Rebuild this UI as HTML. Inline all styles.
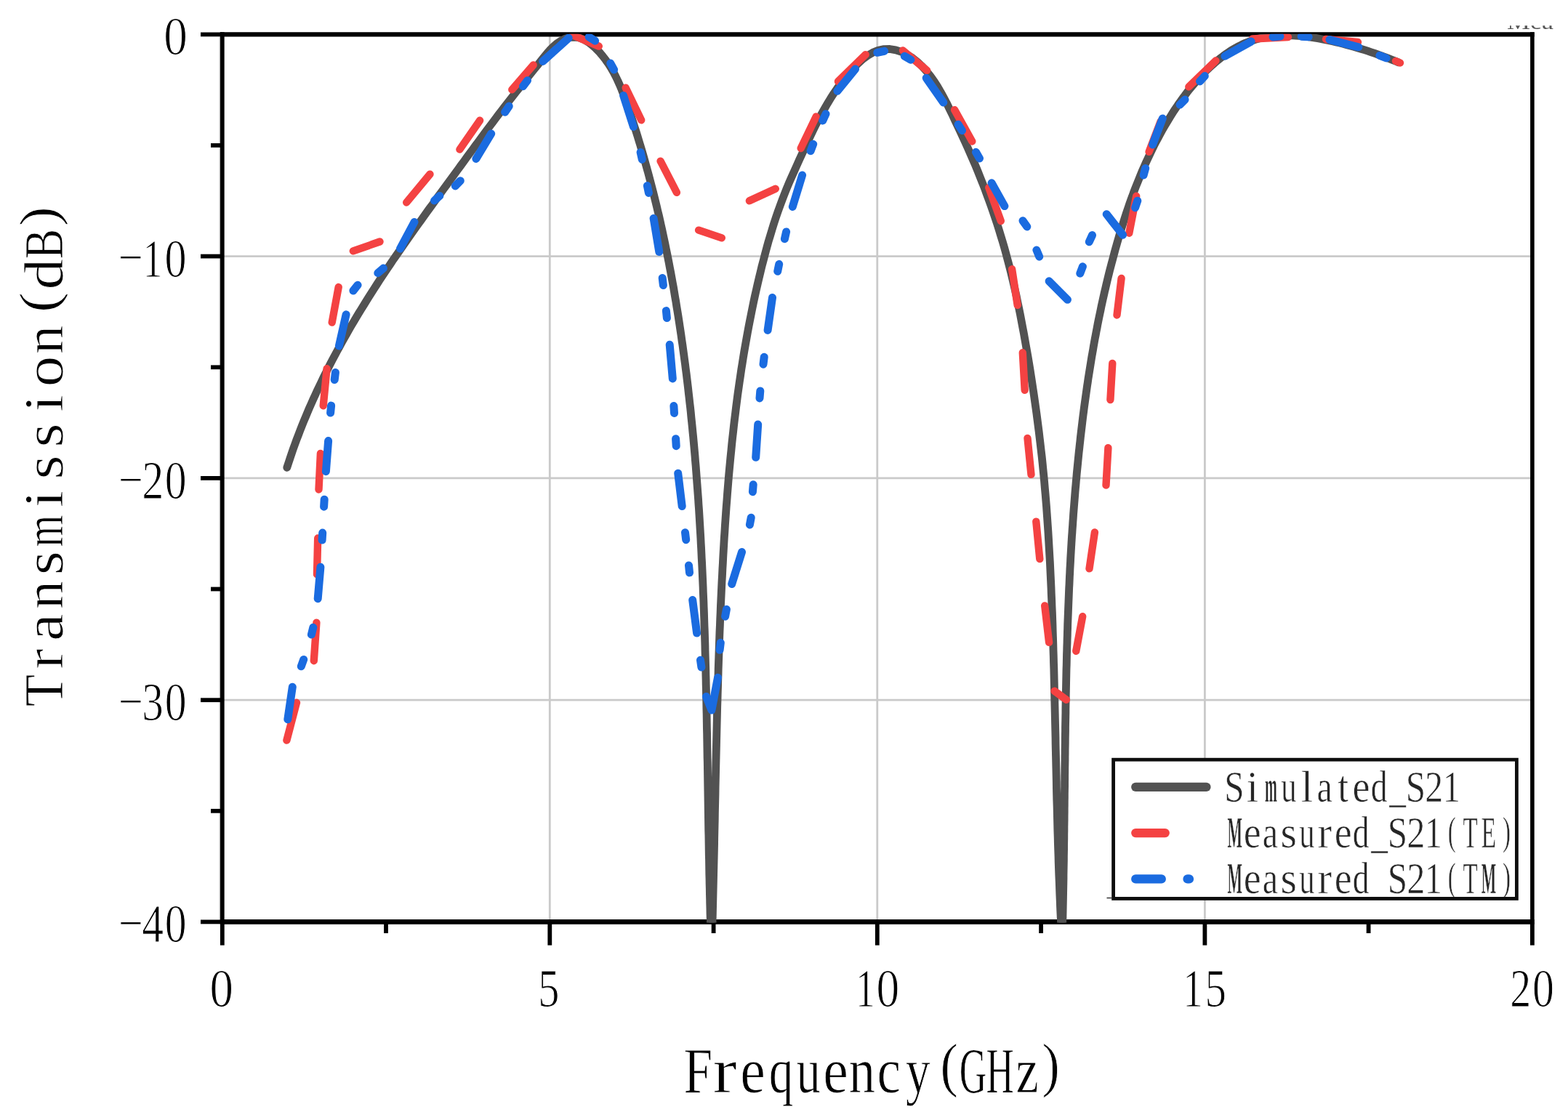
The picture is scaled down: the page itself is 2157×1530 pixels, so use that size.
<!DOCTYPE html>
<html><head><meta charset="utf-8"><title>Transmission vs Frequency</title>
<style>
html,body{margin:0;padding:0;background:#fff;}
svg{display:block;}
text{font-family:'Liberation Serif','Times New Roman',serif;}
</style></head>
<body>
<svg xmlns="http://www.w3.org/2000/svg" width="2157" height="1530" viewBox="0 0 2157 1530">
<defs>
<clipPath id="plotclip"><rect x="305.8" y="46.8" width="1802.2" height="1222.6"/></clipPath>
<clipPath id="topclip"><rect x="2060" y="35.3" width="97" height="5.2"/></clipPath>
</defs>
<rect width="2157" height="1530" fill="#fff"/>
<line x1="756.3" y1="47.4" x2="756.3" y2="1268.4" stroke="#cacaca" stroke-width="2.8"/>
<line x1="1206.8" y1="47.4" x2="1206.8" y2="1268.4" stroke="#cacaca" stroke-width="2.8"/>
<line x1="1657.4" y1="47.4" x2="1657.4" y2="1268.4" stroke="#cacaca" stroke-width="2.8"/>
<line x1="305.8" y1="352.6" x2="2107.9" y2="352.6" stroke="#cacaca" stroke-width="2.8"/>
<line x1="305.8" y1="657.9" x2="2107.9" y2="657.9" stroke="#cacaca" stroke-width="2.8"/>
<line x1="305.8" y1="963.2" x2="2107.9" y2="963.2" stroke="#cacaca" stroke-width="2.8"/>
<line x1="302.2" y1="50.4" x2="302.2" y2="1265.4" stroke="#d6d6d6" stroke-width="1.6"/>
<g stroke="#000" fill="none" stroke-linecap="butt">
<line x1="305.75" y1="44.15" x2="305.75" y2="1268.45" stroke-width="5.8"/>
<line x1="2107.90" y1="44.15" x2="2107.90" y2="1268.45" stroke-width="5.6"/>
<line x1="302.85" y1="47.35" x2="2110.70" y2="47.35" stroke-width="6.4"/>
<line x1="302.85" y1="1268.45" x2="2110.70" y2="1268.45" stroke-width="6.8"/>
</g>
<g stroke="#000" stroke-width="5.8" fill="none">
<line x1="305.8" y1="1268.4" x2="305.8" y2="1300.6"/>
<line x1="756.3" y1="1268.4" x2="756.3" y2="1300.6"/>
<line x1="1206.8" y1="1268.4" x2="1206.8" y2="1300.6"/>
<line x1="1657.4" y1="1268.4" x2="1657.4" y2="1300.6"/>
<line x1="2107.9" y1="1268.4" x2="2107.9" y2="1300.6"/>
<line x1="531.0" y1="1268.4" x2="531.0" y2="1284"/>
<line x1="981.6" y1="1268.4" x2="981.6" y2="1284"/>
<line x1="1432.1" y1="1268.4" x2="1432.1" y2="1284"/>
<line x1="1882.6" y1="1268.4" x2="1882.6" y2="1284"/>
<line x1="276" y1="47.4" x2="305.8" y2="47.4"/>
<line x1="276" y1="352.6" x2="305.8" y2="352.6"/>
<line x1="276" y1="657.9" x2="305.8" y2="657.9"/>
<line x1="276" y1="963.2" x2="305.8" y2="963.2"/>
<line x1="276" y1="1268.4" x2="305.8" y2="1268.4"/>
<line x1="290" y1="200.0" x2="305.8" y2="200.0"/>
<line x1="290" y1="505.3" x2="305.8" y2="505.3"/>
<line x1="290" y1="810.5" x2="305.8" y2="810.5"/>
<line x1="290" y1="1115.8" x2="305.8" y2="1115.8"/>
</g>
<g clip-path="url(#plotclip)" fill="none" stroke-linecap="round" stroke-linejoin="round">
<path d="M394.8,643.3 L396.9,636.9 L399.0,630.5 L401.1,624.2 L403.3,617.8 L405.6,611.5 L407.9,605.2 L410.3,599.0 L412.7,592.7 L415.1,586.5 L417.6,580.3 L420.2,574.1 L422.8,567.9 L425.4,561.7 L428.1,555.6 L430.8,549.5 L433.6,543.4 L436.4,537.3 L439.3,531.3 L442.2,525.2 L445.1,519.2 L448.1,513.2 L451.1,507.2 L454.1,501.3 L457.2,495.3 L460.3,489.4 L463.5,483.5 L466.7,477.6 L469.9,471.7 L473.2,465.9 L476.5,460.1 L479.8,454.2 L483.1,448.4 L486.5,442.7 L489.9,436.9 L493.4,431.2 L496.9,425.5 L500.4,419.8 L503.9,414.1 L507.5,408.4 L511.0,402.8 L514.7,397.1 L518.3,391.5 L521.9,385.9 L525.6,380.3 L529.3,374.7 L533.0,369.2 L536.8,363.6 L540.5,358.1 L544.3,352.6 L548.1,347.1 L551.9,341.6 L555.7,336.1 L559.6,330.6 L563.4,325.1 L567.3,319.6 L571.2,314.2 L575.1,308.7 L579.0,303.3 L582.9,297.9 L586.8,292.4 L590.7,287.0 L594.7,281.6 L598.6,276.2 L602.5,270.7 L606.5,265.3 L610.4,259.9 L614.4,254.5 L618.3,249.1 L622.3,243.7 L626.2,238.3 L630.2,232.9 L634.1,227.5 L638.1,222.1 L642.0,216.7 L646.0,211.3 L650.0,205.9 L653.9,200.5 L657.9,195.1 L661.9,189.7 L665.9,184.3 L669.8,179.0 L673.8,173.6 L677.9,168.3 L681.9,162.9 L685.9,157.6 L690.0,152.3 L694.0,147.0 L698.1,141.7 L702.2,136.5 L706.3,131.2 L710.4,126.0 L714.5,120.8 L718.7,115.6 L722.8,110.3 L727.0,105.1 L731.2,99.9 L735.4,94.7 L739.6,89.5 L743.8,84.2 L748.0,78.9 L752.3,73.6 L756.7,68.6 L761.5,63.8 L766.6,59.5 L772.2,55.9 L778.3,53.0 L784.9,51.3 L791.3,51.0 L797.6,52.2 L803.6,54.6 L809.3,58.0 L814.7,62.2 L819.8,66.9 L824.6,71.8 L829.0,77.0 L833.1,82.3 L836.9,87.7 L840.5,93.3 L843.8,99.1 L846.9,105.0 L849.8,111.0 L852.5,117.0 L855.1,123.2 L857.5,129.4 L859.9,135.7 L862.1,142.0 L864.3,148.4 L866.5,154.7 L868.6,161.1 L870.7,167.5 L872.7,173.8 L874.8,180.2 L876.8,186.6 L878.7,193.0 L880.7,199.5 L882.6,205.9 L884.5,212.3 L886.3,218.8 L888.1,225.2 L889.9,231.7 L891.7,238.1 L893.4,244.6 L895.1,251.1 L896.8,257.6 L898.5,264.1 L900.1,270.6 L901.7,277.1 L903.3,283.6 L904.8,290.1 L906.4,296.6 L907.9,303.2 L909.3,309.7 L910.8,316.3 L912.2,322.8 L913.6,329.4 L915.0,335.9 L916.3,342.5 L917.7,349.1 L919.0,355.6 L920.3,362.2 L921.5,368.8 L922.8,375.4 L924.0,382.0 L925.2,388.6 L926.4,395.1 L927.5,401.7 L928.6,408.3 L929.8,415.0 L930.8,421.6 L931.9,428.2 L933.0,434.8 L934.0,441.4 L935.0,448.0 L936.0,454.6 L937.0,461.3 L937.9,467.9 L938.9,474.5 L939.8,481.2 L940.7,487.8 L941.6,494.4 L942.5,501.1 L943.3,507.7 L944.2,514.3 L945.0,521.0 L945.8,527.6 L946.6,534.3 L947.3,540.9 L948.1,547.6 L948.8,554.2 L949.6,560.9 L950.3,567.5 L950.9,574.2 L951.6,580.8 L952.3,587.5 L952.9,594.1 L953.6,600.8 L954.2,607.5 L954.8,614.1 L955.4,620.8 L956.0,627.5 L956.5,634.1 L957.1,640.8 L957.6,647.5 L958.1,654.1 L958.6,660.8 L959.1,667.5 L959.6,674.2 L960.1,680.8 L960.6,687.5 L961.0,694.2 L961.5,700.9 L961.9,707.6 L962.3,714.2 L962.7,720.9 L963.1,727.6 L963.5,734.3 L963.9,741.0 L964.2,747.7 L964.6,754.3 L964.9,761.0 L965.2,767.7 L965.6,774.4 L965.9,781.1 L966.2,787.8 L966.5,794.5 L966.8,801.2 L967.1,807.9 L967.3,814.6 L967.6,821.3 L967.9,828.0 L968.1,834.7 L968.4,841.4 L968.6,848.1 L968.8,854.8 L969.0,861.5 L969.3,868.2 L969.5,874.9 L969.7,881.6 L969.9,888.3 L970.0,895.0 L970.2,901.7 L970.4,908.4 L970.6,915.1 L970.8,921.8 L970.9,928.5 L971.1,935.2 L971.2,941.9 L971.4,948.6 L971.5,955.3 L971.7,962.0 L971.8,968.7 L971.9,975.4 L972.1,982.1 L972.2,988.8 L972.3,995.5 L972.4,1002.2 L972.6,1008.9 L972.7,1015.6 L972.8,1022.3 L972.9,1029.0 L973.0,1035.7 L973.1,1042.4 L973.3,1049.1 L973.4,1055.8 L973.5,1062.5 L973.6,1069.2 L973.7,1075.9 L973.8,1082.6 L973.9,1089.3 L974.0,1096.0 L974.1,1102.7 L974.2,1109.4 L974.3,1116.1 L974.4,1122.8 L974.5,1129.5 L974.6,1136.2 L974.7,1142.9 L974.9,1149.6 L975.0,1156.2 L975.1,1162.9 L975.2,1169.6 L975.3,1176.3 L975.5,1183.0 L975.6,1189.7 L975.7,1196.4 L975.8,1203.1 L976.0,1209.8 L976.1,1216.4 L976.3,1223.1 L976.4,1229.8 L976.6,1236.5 L976.7,1243.2 L976.9,1249.8 L977.0,1256.5 L977.2,1263.2 L977.4,1269.9 L977.6,1276.6 L977.7,1283.2 L977.9,1289.9" stroke="#525252" stroke-width="10.8"/>
<path d="M979.5,1290.0 L979.7,1281.4 L980.0,1272.8 L980.2,1264.2 L980.4,1255.6 L980.6,1247.0 L980.8,1238.4 L981.0,1229.8 L981.2,1221.2 L981.4,1212.6 L981.6,1204.0 L981.8,1195.4 L982.0,1186.8 L982.2,1178.2 L982.4,1169.6 L982.6,1161.0 L982.7,1152.4 L982.9,1143.8 L983.1,1135.2 L983.3,1126.6 L983.4,1118.0 L983.6,1109.4 L983.8,1100.8 L984.0,1092.2 L984.1,1083.6 L984.3,1075.0 L984.5,1066.4 L984.7,1057.8 L984.9,1049.2 L985.1,1040.7 L985.3,1032.1 L985.5,1023.5 L985.7,1014.9 L985.9,1006.3 L986.1,997.7 L986.3,989.1 L986.5,980.5 L986.7,971.9 L987.0,963.3 L987.2,954.7 L987.5,946.1 L987.7,937.5 L988.0,928.9 L988.2,920.3 L988.5,911.7 L988.8,903.1 L989.1,894.6 L989.4,886.0 L989.7,877.4 L990.0,868.8 L990.4,860.2 L990.7,851.6 L991.1,843.0 L991.4,834.4 L991.8,825.8 L992.2,817.2 L992.6,808.6 L993.0,800.0 L993.5,791.4 L993.9,782.8 L994.4,774.2 L994.8,765.7 L995.3,757.1 L995.8,748.5 L996.3,739.9 L996.9,731.3 L997.4,722.7 L998.0,714.1 L998.6,705.5 L999.2,696.9 L999.9,688.4 L1000.5,679.8 L1001.2,671.2 L1001.9,662.6 L1002.6,654.1 L1003.4,645.5 L1004.2,636.9 L1005.0,628.4 L1005.9,619.8 L1006.7,611.2 L1007.6,602.7 L1008.6,594.1 L1009.5,585.6 L1010.5,577.1 L1011.6,568.5 L1012.6,560.0 L1013.7,551.5 L1014.8,542.9 L1016.0,534.4 L1017.2,525.9 L1018.5,517.4 L1019.7,508.9 L1021.1,500.4 L1022.4,492.0 L1023.8,483.5 L1025.3,475.0 L1026.8,466.5 L1028.3,458.1 L1029.9,449.6 L1031.5,441.2 L1033.2,432.8 L1034.9,424.3 L1036.6,415.9 L1038.4,407.5 L1040.3,399.1 L1042.2,390.7 L1044.2,382.3 L1046.2,374.0 L1048.2,365.6 L1050.4,357.3 L1052.6,348.9 L1054.8,340.6 L1057.1,332.3 L1059.6,324.1 L1062.1,315.8 L1064.6,307.6 L1067.3,299.4 L1070.1,291.3 L1073.0,283.2 L1076.0,275.1 L1079.1,267.1 L1082.3,259.1 L1085.6,251.2 L1089.1,243.3 L1092.6,235.5 L1096.1,227.6 L1099.6,219.8 L1103.2,212.0 L1106.8,204.2 L1110.4,196.4 L1114.1,188.6 L1117.8,180.9 L1121.6,173.2 L1125.5,165.6 L1129.5,158.0 L1133.7,150.5 L1137.9,143.1 L1142.4,135.7 L1147.0,128.5 L1151.8,121.4 L1156.9,114.3 L1162.2,107.5 L1167.8,100.7 L1173.7,94.1 L1179.9,87.8 L1186.4,81.8 L1193.3,76.6 L1200.6,72.3 L1208.1,69.2 L1216.0,67.6 L1224.1,67.5 L1232.2,68.8 L1240.2,71.4 L1248.0,75.2 L1255.4,79.9 L1262.3,85.4 L1268.7,91.5 L1274.6,98.0 L1280.1,104.9 L1285.1,111.9 L1289.8,119.2 L1294.1,126.6 L1298.2,134.1 L1302.2,141.7 L1305.9,149.4 L1309.7,157.1 L1313.3,164.9 L1317.0,172.6 L1320.7,180.4 L1324.3,188.2 L1327.9,196.0 L1331.4,203.8 L1334.9,211.7 L1338.3,219.5 L1341.7,227.4 L1345.0,235.4 L1348.2,243.4 L1351.4,251.4 L1354.5,259.4 L1357.5,267.5 L1360.5,275.6 L1363.4,283.7 L1366.2,291.8 L1369.0,300.0 L1371.7,308.1 L1374.3,316.3 L1376.8,324.6 L1379.3,332.8 L1381.7,341.1 L1384.0,349.4 L1386.2,357.7 L1388.4,366.0 L1390.5,374.3 L1392.5,382.6 L1394.5,391.0 L1396.4,399.4 L1398.3,407.8 L1400.0,416.2 L1401.8,424.6 L1403.5,433.0 L1405.1,441.4 L1406.7,449.9 L1408.3,458.3 L1409.8,466.8 L1411.3,475.2 L1412.8,483.7 L1414.3,492.2 L1415.7,500.7 L1417.1,509.2 L1418.4,517.6 L1419.7,526.1 L1421.0,534.7 L1422.3,543.2 L1423.5,551.7 L1424.7,560.2 L1425.9,568.7 L1427.0,577.3 L1428.1,585.8 L1429.2,594.3 L1430.2,602.9 L1431.2,611.4 L1432.2,620.0 L1433.2,628.5 L1434.1,637.1 L1434.9,645.6 L1435.8,654.2 L1436.6,662.8 L1437.3,671.3 L1438.1,679.9 L1438.8,688.5 L1439.5,697.0 L1440.1,705.6 L1440.7,714.2 L1441.3,722.8 L1441.9,731.3 L1442.4,739.9 L1442.9,748.5 L1443.4,757.1 L1443.9,765.7 L1444.4,774.2 L1444.8,782.8 L1445.2,791.4 L1445.6,800.0 L1446.0,808.6 L1446.3,817.2 L1446.7,825.8 L1447.0,834.4 L1447.4,843.0 L1447.7,851.5 L1448.0,860.1 L1448.2,868.7 L1448.5,877.3 L1448.8,885.9 L1449.0,894.5 L1449.3,903.1 L1449.5,911.7 L1449.8,920.3 L1450.0,928.9 L1450.2,937.5 L1450.4,946.1 L1450.6,954.7 L1450.8,963.3 L1451.0,971.9 L1451.2,980.5 L1451.4,989.1 L1451.6,997.7 L1451.8,1006.3 L1452.0,1014.9 L1452.1,1023.5 L1452.3,1032.1 L1452.5,1040.7 L1452.7,1049.3 L1452.9,1057.9 L1453.1,1066.5 L1453.3,1075.1 L1453.4,1083.7 L1453.6,1092.3 L1453.8,1100.9 L1454.1,1109.5 L1454.3,1118.1 L1454.5,1126.7 L1454.7,1135.3 L1454.9,1143.9 L1455.2,1152.5 L1455.4,1161.1 L1455.7,1169.7 L1456.0,1178.3 L1456.2,1186.9 L1456.5,1195.5 L1456.8,1204.1 L1457.2,1212.7 L1457.5,1221.3 L1457.8,1229.8 L1458.2,1238.4 L1458.5,1247.0 L1458.9,1255.6 L1459.3,1264.2 L1459.7,1272.8 L1460.2,1281.4 L1460.6,1290.0" stroke="#525252" stroke-width="10.8"/>
<path d="M1461.2,1290.0 L1461.3,1284.9 L1461.5,1279.9 L1461.6,1274.8 L1461.7,1269.7 L1461.9,1264.7 L1462.0,1259.6 L1462.1,1254.5 L1462.2,1249.5 L1462.3,1244.4 L1462.4,1239.3 L1462.5,1234.3 L1462.6,1229.2 L1462.7,1224.1 L1462.8,1219.1 L1462.9,1214.0 L1463.0,1208.9 L1463.0,1203.9 L1463.1,1198.8 L1463.2,1193.7 L1463.3,1188.7 L1463.4,1183.6 L1463.4,1178.5 L1463.5,1173.5 L1463.6,1168.4 L1463.6,1163.3 L1463.7,1158.3 L1463.8,1153.2 L1463.8,1148.1 L1463.9,1143.1 L1463.9,1138.0 L1464.0,1132.9 L1464.1,1127.8 L1464.1,1122.8 L1464.2,1117.7 L1464.2,1112.6 L1464.3,1107.6 L1464.3,1102.5 L1464.4,1097.4 L1464.4,1092.4 L1464.5,1087.3 L1464.6,1082.2 L1464.6,1077.2 L1464.7,1072.1 L1464.7,1067.0 L1464.8,1061.9 L1464.8,1056.9 L1464.9,1051.8 L1465.0,1046.7 L1465.0,1041.7 L1465.1,1036.6 L1465.1,1031.5 L1465.2,1026.5 L1465.3,1021.4 L1465.3,1016.3 L1465.4,1011.2 L1465.5,1006.2 L1465.5,1001.1 L1465.6,996.0 L1465.7,991.0 L1465.8,985.9 L1465.9,980.8 L1465.9,975.8 L1466.0,970.7 L1466.1,965.6 L1466.2,960.6 L1466.3,955.5 L1466.4,950.4 L1466.5,945.4 L1466.6,940.3 L1466.7,935.2 L1466.8,930.2 L1466.9,925.1 L1467.0,920.0 L1467.2,915.0 L1467.3,909.9 L1467.4,904.8 L1467.5,899.8 L1467.7,894.7 L1467.8,889.6 L1468.0,884.6 L1468.1,879.5 L1468.3,874.4 L1468.4,869.4 L1468.6,864.3 L1468.7,859.2 L1468.9,854.2 L1469.1,849.1 L1469.3,844.1 L1469.5,839.0 L1469.7,833.9 L1469.9,828.9 L1470.1,823.8 L1470.3,818.7 L1470.5,813.7 L1470.7,808.6 L1471.0,803.6 L1471.2,798.5 L1471.4,793.4 L1471.7,788.4 L1471.9,783.3 L1472.2,778.3 L1472.5,773.2 L1472.7,768.2 L1473.0,763.1 L1473.3,758.0 L1473.6,753.0 L1473.9,747.9 L1474.2,742.9 L1474.5,737.8 L1474.9,732.8 L1475.2,727.7 L1475.6,722.7 L1475.9,717.6 L1476.3,712.6 L1476.6,707.5 L1477.0,702.5 L1477.4,697.4 L1477.8,692.4 L1478.2,687.3 L1478.6,682.3 L1479.0,677.2 L1479.4,672.2 L1479.9,667.1 L1480.3,662.1 L1480.8,657.0 L1481.2,652.0 L1481.7,646.9 L1482.2,641.9 L1482.7,636.9 L1483.2,631.8 L1483.7,626.8 L1484.2,621.7 L1484.8,616.7 L1485.3,611.7 L1485.9,606.6 L1486.4,601.6 L1487.0,596.5 L1487.6,591.5 L1488.2,586.5 L1488.8,581.4 L1489.4,576.4 L1490.0,571.4 L1490.7,566.3 L1491.3,561.3 L1492.0,556.3 L1492.7,551.2 L1493.4,546.2 L1494.1,541.2 L1494.8,536.2 L1495.5,531.2 L1496.3,526.1 L1497.0,521.1 L1497.8,516.1 L1498.6,511.1 L1499.4,506.1 L1500.2,501.1 L1501.0,496.1 L1501.8,491.1 L1502.7,486.1 L1503.6,481.1 L1504.4,476.1 L1505.3,471.1 L1506.2,466.1 L1507.2,461.1 L1508.1,456.1 L1509.1,451.1 L1510.0,446.1 L1511.0,441.2 L1512.0,436.2 L1513.1,431.2 L1514.1,426.3 L1515.1,421.3 L1516.2,416.4 L1517.3,411.4 L1518.4,406.5 L1519.5,401.5 L1520.7,396.6 L1521.8,391.7 L1523.0,386.7 L1524.2,381.8 L1525.4,376.9 L1526.6,372.0 L1527.9,367.1 L1529.2,362.2 L1530.5,357.3 L1531.8,352.4 L1533.1,347.5 L1534.4,342.6 L1535.8,337.7 L1537.2,332.8 L1538.6,328.0 L1540.0,323.1 L1541.5,318.3 L1543.0,313.4 L1544.5,308.6 L1546.0,303.8 L1547.5,299.0 L1549.1,294.2 L1550.7,289.4 L1552.4,284.6 L1554.0,279.8 L1555.7,275.0 L1557.5,270.3 L1559.2,265.5 L1561.0,260.8 L1562.8,256.1 L1564.7,251.4 L1566.6,246.7 L1568.5,242.0 L1570.4,237.4 L1572.4,232.7 L1574.5,228.1 L1576.5,223.5 L1578.6,218.9 L1580.8,214.3 L1583.0,209.7 L1585.2,205.2 L1587.4,200.6 L1589.7,196.1 L1592.1,191.6 L1594.5,187.1 L1596.9,182.7 L1599.4,178.2 L1601.9,173.8 L1604.5,169.4 L1607.1,165.1 L1609.8,160.7 L1612.5,156.4 L1615.2,152.1 L1618.1,147.9 L1620.9,143.6 L1623.8,139.5 L1626.8,135.3 L1629.9,131.3 L1632.9,127.2 L1636.1,123.2 L1639.3,119.3 L1642.6,115.4 L1645.9,111.6 L1649.3,107.8 L1652.8,104.1 L1656.3,100.4 L1659.9,96.8 L1663.5,93.3 L1667.3,89.8 L1671.1,86.5 L1674.9,83.2 L1678.9,80.0 L1682.9,76.9 L1687.0,73.9 L1691.1,71.1 L1695.4,68.4 L1699.7,65.9 L1704.1,63.5 L1708.6,61.3 L1713.1,59.3 L1717.8,57.4 L1722.5,55.8 L1727.2,54.3 L1732.0,53.0 L1736.9,51.8 L1741.8,50.9 L1746.7,50.1 L1751.7,49.5 L1756.7,49.1 L1761.7,48.8 L1766.8,48.7 L1771.9,48.7 L1777.0,48.8 L1782.1,49.0 L1787.2,49.4 L1792.3,49.9 L1797.4,50.5 L1802.5,51.2 L1807.6,51.9 L1812.7,52.8 L1817.8,53.7 L1822.8,54.7 L1827.9,55.7 L1832.9,56.8 L1837.9,58.0 L1842.8,59.1 L1847.7,60.4 L1852.6,61.7 L1857.5,63.0 L1862.3,64.3 L1867.2,65.8 L1872.0,67.2 L1876.8,68.7 L1881.5,70.2 L1886.3,71.8 L1891.1,73.4 L1895.8,75.1 L1900.5,76.8 L1905.3,78.5 L1910.0,80.3 L1914.7,82.2 L1919.4,84.0 L1924.1,85.9" stroke="#525252" stroke-width="10.8"/>
<path d="M394.4,1018.6 L408.0,966.8 M431.8,909.2 L435.4,856.7 M436.0,790.2 L437.2,740.5 M438.5,673.5 L440.9,623.9 M444.7,558.2 L449.6,507.3 M456.7,443.6 L465.7,395.0 M485.8,345.4 L522.5,332.5 M559.2,278.5 L591.5,239.7 M632.4,205.6 L660.1,165.7 M704.3,123.3 L733.7,89.5 M788.0,48.5 L823.8,63.6 M860.7,120.7 L882.2,165.2 M908.6,221.7 L930.9,264.8 M961.1,316.6 L992.8,327.4 M1030.9,276.3 L1066.8,259.8 M1101.7,204.0 L1122.6,160.4 M1152.9,112.0 L1190.8,75.1 M1242.0,69.4 L1275.2,96.9 M1313.1,151.1 L1337.3,194.5 M1360.3,258.2 L1376.8,304.0 M1392.1,370.3 L1399.7,419.9 M1406.8,485.3 L1409.7,536.8 M1413.5,602.9 L1418.5,652.9 M1425.3,717.6 L1430.3,769.1 M1437.2,833.4 L1443.1,883.9 M1450.5,950.8 L1466.9,962.7 M1480.3,895.8 L1489.2,848.2 M1498.5,782.4 L1505.9,732.4 M1521.5,667.6 L1524.4,616.2 M1527.4,550.0 L1530.3,500.0 M1536.5,433.5 L1542.6,383.0 M1553.3,320.7 L1563.2,269.8 M1580.6,208.9 L1596.8,166.7 M1635.3,119.5 L1672.5,83.5 M1722.9,53.5 L1772.0,51.0 M1824.0,54.0 L1868.0,58.0 M1920.0,84.0 L1926.0,86.5" stroke="#f44242" stroke-width="10.4"/>
<path d="M395.8,989.8 L402.3,945.2 M414.3,916.8 L417.7,907.4 M428.4,873.1 L430.8,863.3 M437.2,823.7 L440.9,780.2 M443.1,743.1 L443.7,733.1 M445.6,697.2 L446.2,687.2 M448.4,648.7 L451.6,606.6 M454.6,568.1 L455.6,558.1 M460.2,522.5 L461.4,512.5 M466.4,476.0 L476.1,432.8 M485.9,400.0 L492.1,392.2 M519.8,375.7 L527.4,369.1 M550.5,342.2 L570.0,305.5 M597.5,276.0 L604.9,269.4 M626.3,255.9 L633.3,248.7 M654.9,218.5 L675.7,183.9 M694.6,154.3 L700.2,146.1 M719.5,118.7 L725.5,110.7 M746.7,84.4 L782.2,52.3 M810.2,50.8 L818.6,56.2 M839.8,87.1 L844.6,95.9 M857.6,131.4 L871.4,174.4 M881.1,209.5 L883.3,219.3 M890.4,255.6 L892.4,265.4 M899.1,300.4 L906.8,346.5 M911.2,382.5 L912.4,392.5 M916.4,427.6 L917.4,437.6 M921.2,474.3 L925.3,520.9 M926.9,558.5 L927.5,568.5 M929.6,603.7 L930.2,613.7 M932.7,651.2 L938.2,696.5 M942.5,732.7 L943.7,742.7 M947.5,777.9 L948.5,787.9 M952.7,825.5 L958.6,871.1 M963.5,908.2 L964.9,918.0 M971.5,958.4 L978.9,977.1 L987.5,932.3 M990.1,894.3 L991.3,884.3 M997.6,848.2 L999.4,838.4 M1006.7,803.5 L1020.5,759.6 M1031.4,722.0 L1033.2,712.2 M1035.4,676.8 L1036.2,666.8 M1039.7,629.3 L1042.7,584.0 M1045.0,547.9 L1045.8,537.9 M1050.0,501.2 L1051.2,491.2 M1056.1,454.4 L1062.5,409.5 M1069.7,373.3 L1071.7,363.5 M1079.4,328.7 L1081.6,318.9 M1090.3,284.5 L1103.6,241.0 M1115.1,207.7 L1118.7,198.3 M1131.8,165.9 L1136.0,156.7 M1151.9,125.3 L1176.6,95.0 M1206.8,72.3 L1216.6,70.3 M1244.3,77.3 L1252.9,82.3 M1274.2,107.3 L1297.8,141.0 M1318.1,171.2 L1323.5,179.6 M1342.5,209.3 L1347.5,217.9 M1364.1,251.8 L1381.9,283.6 M1407.0,303.7 L1412.8,311.9 M1425.9,344.0 L1429.7,353.2 M1443.1,386.8 L1468.5,412.3 M1485.8,376.2 L1489.4,366.8 M1498.3,332.8 L1502.5,323.6 M1522.2,294.7 L1544.6,323.2 M1561.6,285.7 L1564.8,276.3 M1573.1,241.1 L1575.7,231.5 M1585.6,199.0 L1599.3,163.0 M1623.1,144.1 L1630.1,137.1 M1650.5,112.0 L1657.3,104.6 M1685.0,77.3 L1721.1,57.1 M1751.0,50.9 L1761.0,50.1 M1790.2,50.2 L1800.2,50.8 M1829.0,54.6 L1868.8,64.8 M1897.9,76.4 L1907.1,80.0" stroke="#1a6be0" stroke-width="11"/>
</g>
<g font-family="'Liberation Serif', 'Times New Roman', serif" font-size="74.7" fill="#000" stroke="#fff" stroke-width="1.1">
<text transform="translate(225.32,75.35) scale(0.872,1.0)">0</text>
<text transform="translate(162.38,379.43) scale(0.811,1.0)">−</text>
<text transform="translate(196.88,380.62) scale(0.703,1.0)">1</text>
<text transform="translate(226.61,380.62) scale(0.805,1.0)">0</text>
<text transform="translate(162.70,684.70) scale(0.806,1.0)">−</text>
<text transform="translate(195.26,685.90) scale(0.805,1.0)">2</text>
<text transform="translate(226.73,685.90) scale(0.799,1.0)">0</text>
<text transform="translate(162.70,989.98) scale(0.806,1.0)">−</text>
<text transform="translate(195.37,991.18) scale(0.791,1.0)">3</text>
<text transform="translate(226.73,991.18) scale(0.799,1.0)">0</text>
<text transform="translate(162.70,1295.25) scale(0.806,1.0)">−</text>
<text transform="translate(195.24,1296.45) scale(0.798,1.0)">4</text>
<text transform="translate(226.73,1296.45) scale(0.799,1.0)">0</text>
<text transform="translate(288.43,1385.40) scale(0.869,1.0)">0</text>
<text transform="translate(740.21,1385.40) scale(0.781,1.0)">5</text>
<text transform="translate(1177.36,1385.40) scale(0.707,1.0)">1</text>
<text transform="translate(1205.48,1385.40) scale(0.850,1.0)">0</text>
<text transform="translate(1627.36,1385.40) scale(0.738,1.0)">1</text>
<text transform="translate(1657.57,1385.40) scale(0.791,1.0)">5</text>
<text transform="translate(2077.26,1385.40) scale(0.775,1.0)">2</text>
<text transform="translate(2108.02,1385.40) scale(0.802,1.0)">0</text>
</g>
<g transform="translate(85.6,0) rotate(-90)" font-family="'Liberation Serif', 'Times New Roman', serif" font-size="76" fill="#000" stroke="#fff" stroke-width="0.9">
<text transform="translate(-972.32,0.00) scale(0.959,1.0)">T</text>
<text transform="translate(-920.75,0.00) scale(1.120,1.0)">r</text>
<text transform="translate(-882.00,0.00) scale(1.120,1.0)">a</text>
<text transform="translate(-838.09,0.00) scale(1.025,1.0)">n</text>
<text transform="translate(-791.17,0.00) scale(1.120,1.0)">s</text>
<text transform="translate(-752.58,0.00) scale(0.742,1.0)">m</text>
<text transform="translate(-698.37,0.00) scale(1.107,1.0)">i</text>
<text transform="translate(-659.47,0.00) scale(1.120,1.0)">s</text>
<text transform="translate(-615.57,0.00) scale(1.120,1.0)">s</text>
<text transform="translate(-566.81,0.00) scale(1.120,1.0)">i</text>
<text transform="translate(-532.28,0.00) scale(1.120,1.0)">o</text>
<text transform="translate(-487.27,0.00) scale(1.045,1.0)">n</text>
<text transform="translate(-430.17,-7.50) scale(1.120,0.97)">(</text>
<text transform="translate(-398.50,0.00) scale(1.120,1.0)">d</text>
<text transform="translate(-356.19,0.00) scale(0.817,1.0)">B</text>
<text transform="translate(-311.50,-7.50) scale(1.081,0.97)">)</text>
</g>
<g font-family="'Liberation Serif', 'Times New Roman', serif" font-size="89" fill="#000" stroke="#fff" stroke-width="0.9">
<text transform="translate(940.44,1502.60) scale(0.803,1.0)">F</text>
<text transform="translate(980.44,1502.60) scale(1.120,1.0)">r</text>
<text transform="translate(1018.36,1502.60) scale(0.874,1.0)">e</text>
<text transform="translate(1057.77,1502.60) scale(0.756,1.0)">q</text>
<text transform="translate(1095.62,1502.60) scale(0.749,1.0)">u</text>
<text transform="translate(1132.26,1502.60) scale(0.874,1.0)">e</text>
<text transform="translate(1167.42,1502.60) scale(0.822,1.0)">n</text>
<text transform="translate(1206.41,1502.60) scale(0.824,1.0)">c</text>
<text transform="translate(1245.88,1502.60) scale(0.757,1.0)">y</text>
<text transform="translate(1293.58,1492.60) scale(0.822,0.93)">(</text>
<text transform="translate(1319.67,1502.60) scale(0.584,1.0)">G</text>
<text transform="translate(1356.58,1502.60) scale(0.594,1.0)">H</text>
<text transform="translate(1397.60,1502.60) scale(0.794,1.0)">z</text>
<text transform="translate(1433.45,1492.60) scale(0.818,0.93)">)</text>
</g>
<rect x="1531.6" y="1045.2" width="554.8" height="191.2" fill="#fff" stroke="none"/>
<g stroke-linecap="round" stroke-width="12.2" fill="none">
<line x1="1562.2" y1="1082.9" x2="1659.5" y2="1082.9" stroke="#525252"/>
<line x1="1562.2" y1="1146.1" x2="1602.8" y2="1146.1" stroke="#f44242"/>
<line x1="1562.2" y1="1209.4" x2="1597.8" y2="1209.4" stroke="#1a6be0"/>
<line x1="1633.5" y1="1209.4" x2="1636" y2="1209.4" stroke="#1a6be0"/>
</g>
<g font-family="'Liberation Serif', 'Times New Roman', serif" font-size="57" fill="#262626" stroke="#fff" stroke-width="0.6">
<text transform="translate(1684.21,1102.80) scale(0.862,1.08)">S</text>
<text transform="translate(1714.72,1102.80) scale(1.033,1.08)">i</text>
<text transform="translate(1740.00,1102.80) scale(0.355,1.08)" font-weight="bold">m</text>
<text transform="translate(1762.32,1102.80) scale(0.747,1.08)">u</text>
<text transform="translate(1789.66,1102.80) scale(1.033,1.08)">l</text>
<text transform="translate(1811.61,1102.80) scale(0.844,1.08)">a</text>
<text transform="translate(1840.24,1102.80) scale(0.937,1.08)">t</text>
<text transform="translate(1860.61,1102.80) scale(0.948,1.08)">e</text>
<text transform="translate(1885.73,1102.80) scale(0.800,1.08)">d</text>
<text transform="translate(1911.25,1102.80) scale(0.800,1.08)">_</text>
<text transform="translate(1933.81,1102.80) scale(0.862,1.08)">S</text>
<text transform="translate(1960.37,1102.80) scale(0.875,1.08)">2</text>
<text transform="translate(1984.78,1102.80) scale(0.847,1.08)">1</text>
<text transform="translate(1688.38,1166.30) scale(0.380,1.08)" font-weight="bold">M</text>
<text transform="translate(1710.85,1166.30) scale(0.948,1.08)">e</text>
<text transform="translate(1736.73,1166.30) scale(0.844,1.08)">a</text>
<text transform="translate(1761.51,1166.30) scale(1.012,1.08)">s</text>
<text transform="translate(1787.28,1166.30) scale(0.747,1.08)">u</text>
<text transform="translate(1812.62,1166.30) scale(1.038,1.08)">r</text>
<text transform="translate(1835.65,1166.30) scale(0.948,1.08)">e</text>
<text transform="translate(1860.77,1166.30) scale(0.800,1.08)">d</text>
<text transform="translate(1886.29,1166.30) scale(0.800,1.08)">_</text>
<text transform="translate(1908.85,1166.30) scale(0.862,1.08)">S</text>
<text transform="translate(1935.41,1166.30) scale(0.875,1.08)">2</text>
<text transform="translate(1959.82,1166.30) scale(0.847,1.08)">1</text>
<text transform="translate(1991.82,1161.80) scale(0.581,0.97)">(</text>
<text transform="translate(2012.38,1166.30) scale(0.579,1.08)">T</text>
<text transform="translate(2037.47,1166.30) scale(0.593,1.08)">E</text>
<text transform="translate(2067.08,1161.80) scale(0.581,0.97)">)</text>
<text transform="translate(1688.38,1229.20) scale(0.380,1.08)" font-weight="bold">M</text>
<text transform="translate(1710.85,1229.20) scale(0.948,1.08)">e</text>
<text transform="translate(1736.73,1229.20) scale(0.844,1.08)">a</text>
<text transform="translate(1761.51,1229.20) scale(1.012,1.08)">s</text>
<text transform="translate(1787.28,1229.20) scale(0.747,1.08)">u</text>
<text transform="translate(1812.62,1229.20) scale(1.038,1.08)">r</text>
<text transform="translate(1835.65,1229.20) scale(0.948,1.08)">e</text>
<text transform="translate(1860.77,1229.20) scale(0.800,1.08)">d</text>
<text transform="translate(1886.29,1229.20) scale(0.800,1.08)">_</text>
<text transform="translate(1908.85,1229.20) scale(0.862,1.08)">S</text>
<text transform="translate(1935.41,1229.20) scale(0.875,1.08)">2</text>
<text transform="translate(1959.82,1229.20) scale(0.847,1.08)">1</text>
<text transform="translate(1991.82,1224.70) scale(0.581,0.97)">(</text>
<text transform="translate(2012.38,1229.20) scale(0.579,1.08)">T</text>
<text transform="translate(2037.82,1229.20) scale(0.380,1.08)" font-weight="bold">M</text>
<text transform="translate(2067.08,1224.70) scale(0.581,0.97)">)</text>
</g>
<rect x="1531.6" y="1045.2" width="554.8" height="191.2" fill="none" stroke="#0d0d0d" stroke-width="4.8"/>
<line x1="1522.5" y1="1235.5" x2="1530" y2="1235.5" stroke="#333" stroke-width="1.5"/>
<g clip-path="url(#topclip)"><text x="2073" y="40" font-family="'Liberation Serif', 'Times New Roman', serif" font-size="30" fill="#555" textLength="64" lengthAdjust="spacingAndGlyphs">Mea</text></g>
</svg>
</body></html>
